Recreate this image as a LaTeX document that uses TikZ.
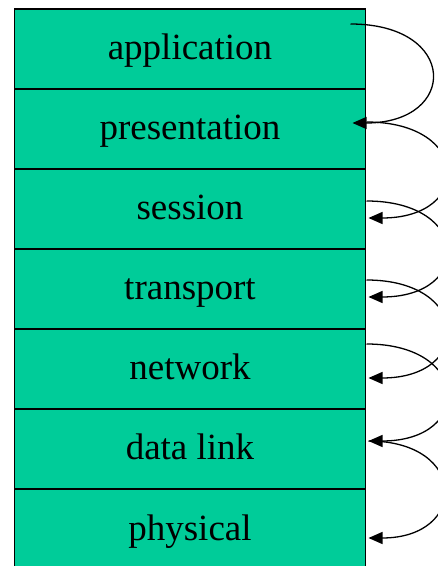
\documentclass[tikz,border=0pt]{standalone}
\usepackage{fontspec}
\setmainfont{Liberation Serif}
\usetikzlibrary{arrows.meta,positioning}
\definecolor{layergreen}{RGB}{0,204,153}

\begin{document}
\begin{tikzpicture}[x=1pt, y=1pt, >={Triangle[length=14pt,width=12pt]},
  layer/.style={draw, fill=layergreen, line width=1.3pt, minimum width=351pt,
    minimum height=80pt, inner sep=0pt, outer sep=0pt,
    text height=30pt, text depth=8pt,
    font=\fontsize{37}{40}\selectfont},
  hop/.style={->, line width=1.3pt}]
  \useasboundingbox (0,0) rectangle (438,566);
  \clip (0,0) rectangle (438,566);
  % the stack of layers
  \node[layer] (app) at (190,517) {application};
  \node[layer, below=0pt of app] (pres) {presentation};
  \node[layer, below=0pt of pres] (sess) {session};
  \node[layer, below=0pt of sess] (trans) {transport};
  \node[layer, below=0pt of trans] (net) {network};
  \node[layer, below=0pt of net] (link) {data link};
  \node[layer, below=0pt of link] (phys) {physical};
  % hops down the stack
  \draw[hop] ([xshift=-15pt,yshift=25pt]app.east)
    .. controls +(108,0) and +(106,0) .. ([xshift=-13pt,yshift=6pt]pres.east);
  \draw[hop] ([xshift=1pt,yshift=7pt]pres.east)
    .. controls +(105,0) and +(105,0) .. ([xshift=3pt,yshift=-9pt]sess.east);
  \draw[hop] ([xshift=1pt,yshift=8pt]sess.east)
    .. controls +(105,0) and +(105,0) .. ([xshift=3pt,yshift=-8pt]trans.east);
  \draw[hop] ([xshift=1pt,yshift=9pt]trans.east)
    .. controls +(105,0) and +(105,0) .. ([xshift=3pt,yshift=-9pt]net.east);
  \draw[hop] ([xshift=1pt,yshift=25pt]net.east)
    .. controls +(105,0) and +(105,0) .. ([xshift=3pt,yshift=8pt]link.east);
  \draw[hop] ([xshift=3pt,yshift=8pt]link.east)
    .. controls +(100,0) and +(100,0) .. ([xshift=3pt,yshift=-9pt]phys.east);
\end{tikzpicture}
\end{document}
